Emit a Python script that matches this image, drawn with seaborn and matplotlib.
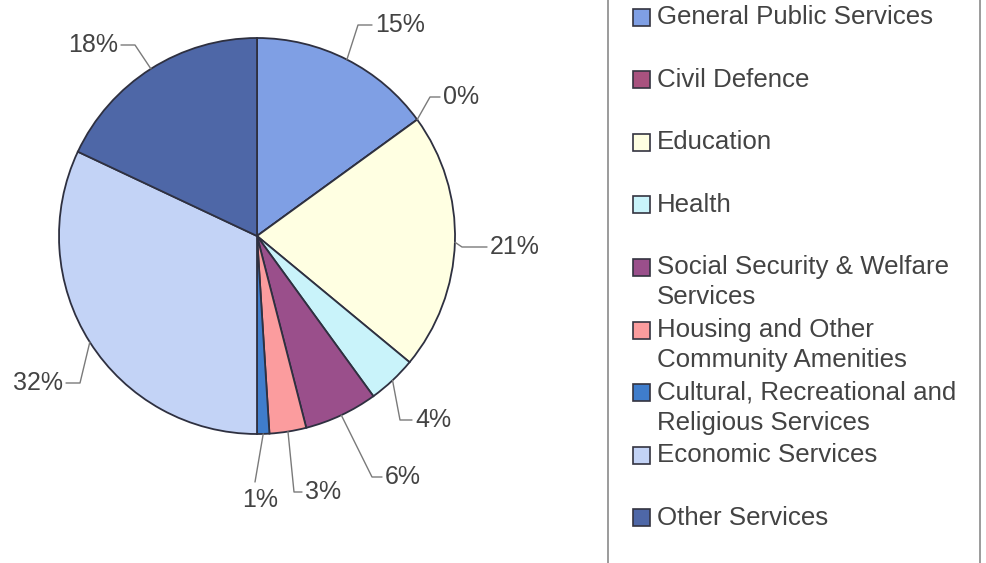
import numpy as np
import matplotlib
matplotlib.use("Agg")
import matplotlib.pyplot as plt
from matplotlib.patches import Rectangle
import seaborn as sns

# Expenditure shares by function (percent)
categories = [
    "General Public Services",
    "Civil Defence",
    "Education",
    "Health",
    "Social Security & Welfare\nServices",
    "Housing and Other\nCommunity Amenities",
    "Cultural, Recreational and\nReligious Services",
    "Economic Services",
    "Other Services",
]
shares = [15, 0, 21, 4, 6, 3, 1, 32, 18]
pct_labels = ["15%", "0%", "21%", "4%", "6%", "3%", "1%", "32%", "18%"]
colors = ["#7f9fe4", "#a8527f", "#ffffe2", "#c9f3fa", "#9a4f8b",
          "#fb9c9e", "#3f7dcc", "#c3d3f6", "#4e67a7"]

sns.set_theme(style="white")
plt.rcParams["font.family"] = ["Liberation Sans", "DejaVu Sans"]

W, H = 987, 563
fig = plt.figure(figsize=(W / 100, H / 100), dpi=100)
ax = fig.add_axes([0, 0, 1, 1])

cx, cy, R = 257, H - 236, 198
wedges, _ = ax.pie(
    shares, colors=colors, startangle=90, counterclock=False,
    center=(cx, cy), radius=R, frame=True,
    wedgeprops=dict(edgecolor="#2e3040", linewidth=1.3),
)
ax.set_xlim(0, W)
ax.set_ylim(0, H)
ax.set_aspect("equal")
ax.axis("off")

# label layout: (text x, text y from top, elbow x, horizontal alignment)
label_layout = [
    (375, 25, 358, "left"),
    (443, 97, 430, "left"),
    (490, 247, 462, "left"),
    (415, 420, 400, "left"),
    (385, 477, 372, "left"),
    (305, 492, 294, "left"),
    (260, 500, None, "center"),
    (63, 383, 80, "right"),
    (118, 45, 135, "right"),
]

txt_color = "#434343"
line_color = "#7a7a7a"
for w, lab, (tx, ty, ex, ha) in zip(wedges, pct_labels, label_layout):
    mid = np.deg2rad((w.theta1 + w.theta2) / 2)
    px, py = cx + R * np.cos(mid), cy + R * np.sin(mid)
    ty = H - ty
    if ex is None:
        ax.plot([px, tx - 5], [py, ty + 18], color=line_color, lw=1)
    else:
        end = tx - 3 if ha == "left" else tx + 3
        ax.plot([px, ex, end], [py, ty, ty], color=line_color, lw=1)
    ax.text(tx, ty, lab, ha=ha, va="center", fontsize=18, color=txt_color)

# legend panel
ax.add_patch(Rectangle((608, -5), 372, H + 10, fill=False,
                       edgecolor="#8a8a8a", linewidth=1.2))
y0, step, line_gap = 17, 62.6, 30
for i, (name, col) in enumerate(zip(categories, colors)):
    yc = H - (y0 + i * step)
    ax.add_patch(Rectangle((633, yc - 8.5), 17, 17, facecolor=col,
                           edgecolor="#333340", linewidth=1.2))
    for k, line in enumerate(name.split("\n")):
        ax.text(657, yc - k * line_gap, line, ha="left", va="center",
                fontsize=18.6, color=txt_color)

fig.savefig("out.png", dpi=100, facecolor="white")
